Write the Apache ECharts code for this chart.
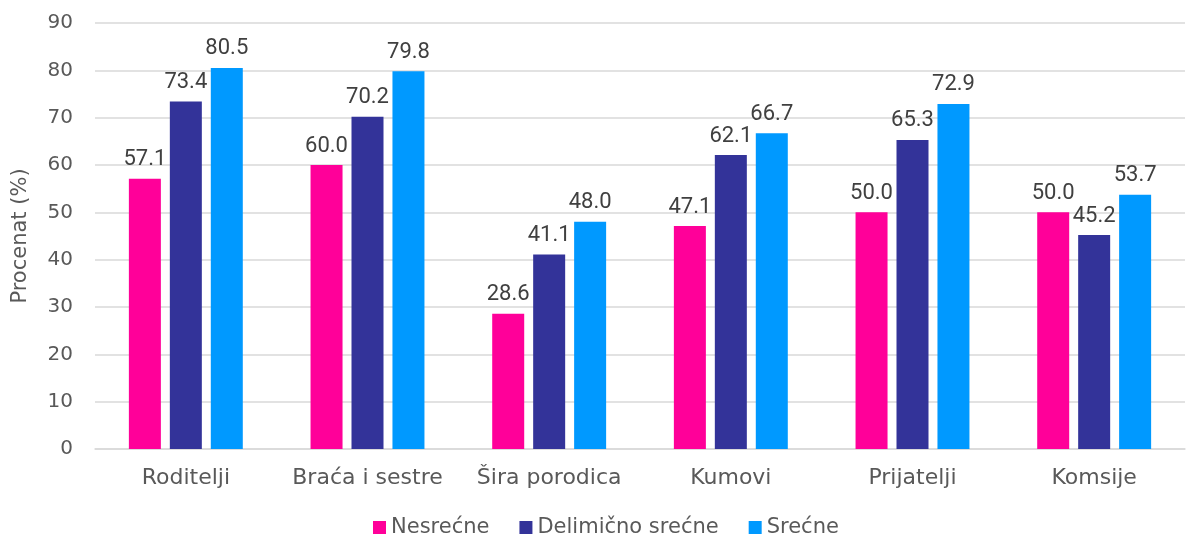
<!DOCTYPE html>
<html>
<head>
<meta charset="utf-8">
<script src="https://cdn.jsdelivr.net/npm/echarts@6/dist/echarts.min.js"></script>
<style>
  html, body { margin: 0; padding: 0; background: #fff; }
  #chart { width: 1187px; height: 539px; }
</style>
</head>
<body>
<div id="chart"></div>
<script>
// grupe i vrednosti (procenat)
const categories = ['Roditelji', 'Braća i sestre', 'Šira porodica', 'Kumovi', 'Prijatelji', 'Komsije'];
const nesrecne = [57.1, 60.0, 28.6, 47.1, 50.0, 50.0];
const delimicno = [73.4, 70.2, 41.1, 62.1, 65.3, 45.2];
const srecne = [80.5, 79.8, 48.0, 66.7, 72.9, 53.7];
const seriesNames = ['Nesrećne', 'Delimično srećne', 'Srećne'];
const colors = ['#FF0099', '#333399', '#0099FF'];

const axisFont = 'DejaVu Sans';
const valueFont = 'Roboto';

const makeSeries = (name, data, color) => ({
    name: name,
    type: 'bar',
    data: data,
    barWidth: 32,
    barGap: '28%',
    itemStyle: { color: color },
    label: {
        show: true,
        position: 'top',
        distance: 8,
        formatter: p => p.value.toFixed(1),
        fontFamily: valueFont,
        fontSize: 22,
        color: '#404040'
    }
});

const myChart = echarts.init(document.getElementById('chart'));
const option = {
    animation: false,
    legend: {
        bottom: 1,
        left: 368,
        padding: [0, 5, 0, 5],
        itemWidth: 13,
        itemHeight: 13,
        itemGap: 30,
        icon: 'rect',
        textStyle: { fontFamily: axisFont, fontSize: 21, color: '#595959' }
    },
    grid: { left: 95, right: 2, top: 23, bottom: 90, outerBoundsMode: 'none' },
    xAxis: {
        type: 'category',
        data: categories,
        axisTick: { show: false },
        axisLine: { lineStyle: { color: '#d9d9d9', width: 1.5 } },
        axisLabel: { interval: 0, margin: 18, fontFamily: axisFont, fontSize: 22, color: '#595959' }
    },
    yAxis: {
        type: 'value',
        min: 0,
        max: 90,
        interval: 10,
        name: 'Procenat (%)',
        nameLocation: 'middle',
        nameGap: 64,
        nameTextStyle: { fontFamily: axisFont, fontSize: 21, color: '#595959' },
        axisLabel: { margin: 22, fontFamily: axisFont, fontSize: 20, color: '#595959' },
        splitLine: { lineStyle: { color: '#d9d9d9', width: 1.5 } }
    },
    series: [
        makeSeries(seriesNames[0], nesrecne, colors[0]),
        makeSeries(seriesNames[1], delimicno, colors[1]),
        makeSeries(seriesNames[2], srecne, colors[2])
    ]
};
option && myChart.setOption(option);
</script>
</body>
</html>
